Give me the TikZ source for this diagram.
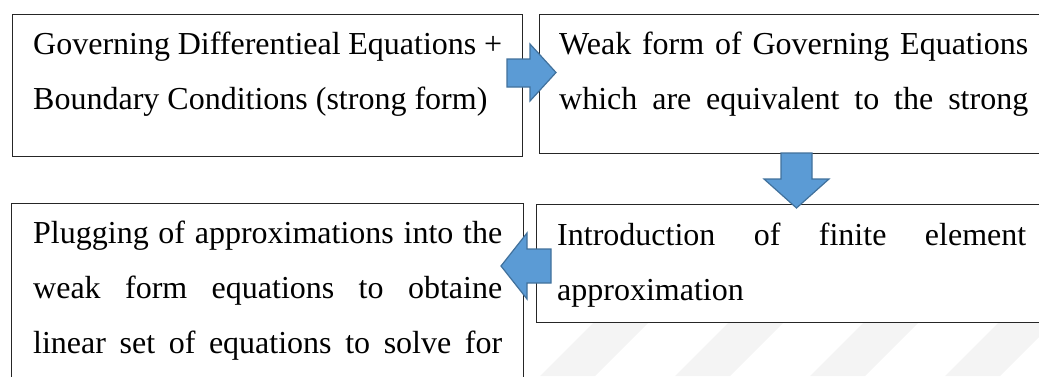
\documentclass[tikz,border=0pt]{standalone}
\usepackage{fontspec}
\setmainfont{Liberation Serif}
\definecolor{arrowblue}{HTML}{5B9BD5}
\definecolor{arrowedge}{HTML}{41719C}
\definecolor{boxline}{HTML}{262626}
\definecolor{wmark}{HTML}{F4F4F4}
\begin{document}
\begin{tikzpicture}[x=1pt,y=-1pt,
  box/.style={draw=boxline,line width=1.2pt,fill=white,inner sep=0pt,anchor=north west},
  txt/.style={inner sep=0pt,anchor=base west,font=\rmfamily\fontsize{32}{55}\selectfont},
  blockarrow/.style={fill=arrowblue,draw=arrowedge,line width=1.2pt,line join=miter},
  stripe/.style={fill=wmark,draw=none}]
\useasboundingbox (0,0) rectangle (1039,376);
\clip (0,0) rectangle (1039,376);
% faint watermark stripes
\foreach \k in {0,1,2,3}{
  \fill[stripe] (540+135*\k,376) -- (595+135*\k,376) -- (665+135*\k,306) -- (610+135*\k,306) -- cycle;
}
% boxes
\node[box,minimum width=510pt,minimum height=142pt] (b1) at (12,14) {};
\node[box,minimum width=510pt,minimum height=139pt] (b2) at (539,14) {};
\node[box,minimum width=512pt,minimum height=190pt] (b3) at (11,203) {};
\node[box,minimum width=512pt,minimum height=118pt] (b4) at (536,204) {};
% texts
\node[txt] (t11) at (33,54) {\makebox[469pt][s]{Governing Differentieal Equations +}};
\node[txt] (t12) at (33,109) {Boundary Conditions (strong form)};
\node[txt] (t21) at (559,54) {\makebox[469pt][s]{Weak form of Governing Equations}};
\node[txt] (t22) at (559,109) {\makebox[469pt][s]{which are equivalent to the strong}};
\node[txt] (t31) at (33,243) {\makebox[469pt][s]{Plugging of approximations into the}};
\node[txt] (t32) at (33,298) {\makebox[469pt][s]{weak form equations to obtaine}};
\node[txt] (t33) at (33,353) {\makebox[469pt][s]{linear set of equations to solve for}};
\node[txt] (t41) at (557,245) {\makebox[469pt][s]{Introduction of finite element}};
\node[txt] (t42) at (557,300) {approximation};
% block arrows
\draw[blockarrow] (507,59) -- (530,59) -- (530,44) -- (556,72.5) -- (530,101) -- (530,87) -- (507,87) -- cycle;
\draw[blockarrow] (781,153) -- (812,153) -- (812,179) -- (829,179) -- (796.5,208) -- (764,179) -- (781,179) -- cycle;
\draw[blockarrow] (551,249) -- (527,249) -- (527,233) -- (501,266) -- (527,299) -- (527,283) -- (551,283) -- cycle;
\end{tikzpicture}
\end{document}
